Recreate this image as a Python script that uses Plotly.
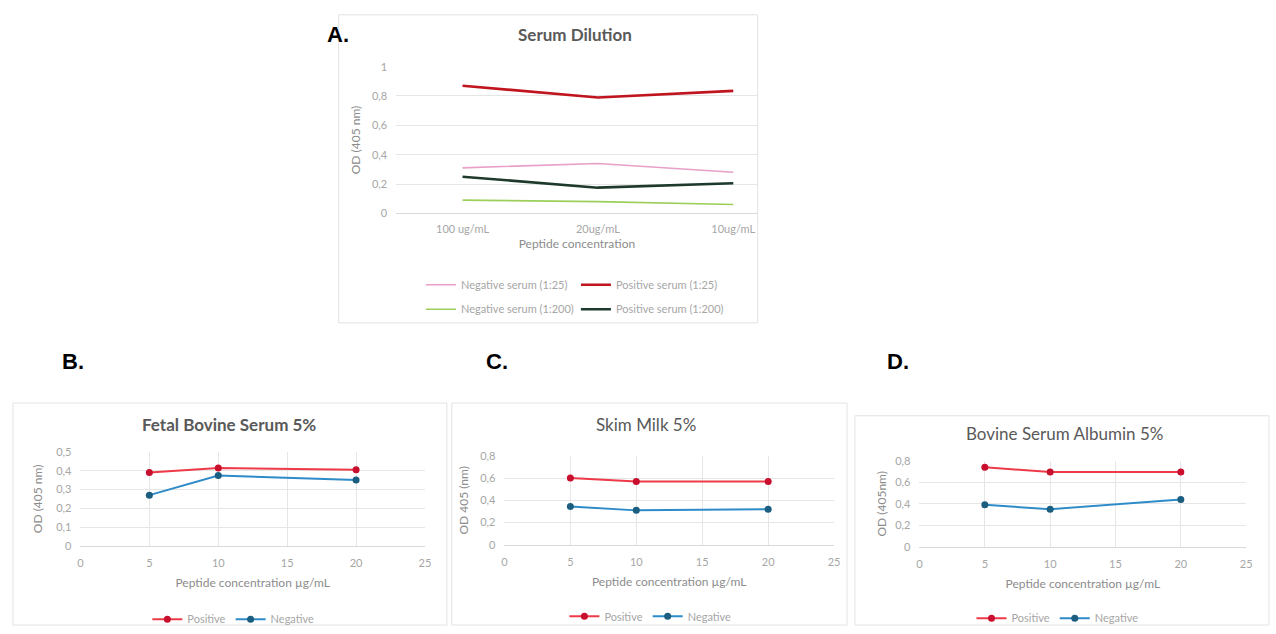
import plotly.graph_objects as go

W, H = 1276, 634

# ---------------- data ----------------
a_categories = ["100 ug/mL", "20ug/mL", "10ug/mL"]
a_neg_1_25 = [0.31, 0.34, 0.28]
a_pos_1_25 = [0.87, 0.79, 0.835]
a_neg_1_200 = [0.09, 0.08, 0.06]
a_pos_1_200 = [0.25, 0.175, 0.205]

conc = [5, 10, 20]
b_pos = [0.39, 0.415, 0.405]
b_neg = [0.27, 0.375, 0.35]
c_pos = [0.60, 0.57, 0.57]
c_neg = [0.345, 0.31, 0.32]
d_pos = [0.74, 0.695, 0.695]
d_neg = [0.39, 0.35, 0.44]

FONT = "Lato"
TICK = "#A6A6A6"
TXT = "#8C8C8C"
GRID = "#E6E6E6"
RED_L, RED_M = "#EE3A48", "#C8102E"
BLU_L, BLU_M = "#2E8BC8", "#1B5E80"


def px(x):
    return x / W


def py(y):
    return 1 - y / H


fig = go.Figure()

# Panel A traces
fig.add_trace(go.Scatter(x=a_categories, y=a_neg_1_25, mode="lines", name="Negative serum (1:25)",
                         line=dict(color="#E8A0C8", width=1.6), xaxis="x", yaxis="y", legend="legend"))
fig.add_trace(go.Scatter(x=a_categories, y=a_pos_1_25, mode="lines", name="Positive serum (1:25)",
                         line=dict(color="#C0141E", width=2.6), xaxis="x", yaxis="y", legend="legend"))
fig.add_trace(go.Scatter(x=a_categories, y=a_neg_1_200, mode="lines", name="Negative serum (1:200)",
                         line=dict(color="#9BCF5A", width=1.6), xaxis="x", yaxis="y", legend="legend5"))
fig.add_trace(go.Scatter(x=a_categories, y=a_pos_1_200, mode="lines", name="Positive serum (1:200)",
                         line=dict(color="#1E3A2C", width=2.6), xaxis="x", yaxis="y", legend="legend5"))

# Panels B, C, D
panels = [
    ("x2", "y2", "legend2", b_pos, b_neg),
    ("x3", "y3", "legend3", c_pos, c_neg),
    ("x4", "y4", "legend4", d_pos, d_neg),
]
for xa, ya, lg, pos, neg in panels:
    fig.add_trace(go.Scatter(x=conc, y=pos, mode="lines+markers", name="Positive",
                             line=dict(color=RED_L, width=2), marker=dict(color=RED_M, size=7),
                             xaxis=xa, yaxis=ya, legend=lg))
    fig.add_trace(go.Scatter(x=conc, y=neg, mode="lines+markers", name="Negative",
                             line=dict(color=BLU_L, width=2), marker=dict(color=BLU_M, size=7),
                             xaxis=xa, yaxis=ya, legend=lg))

tickfont = dict(family=FONT, size=11, color=TICK)
titlefont = dict(family=FONT, size=12, color=TXT)


def xaxis_lin(x0, x1, anchor, title):
    return dict(domain=[px(x0), px(x1)], anchor=anchor, range=[0, 25], dtick=5,
                showgrid=True, gridcolor=GRID, zeroline=False, showline=True, linecolor="#D9D9D9",
                ticks="", tickfont=tickfont, ticklabelstandoff=7,
                title=dict(text=title, font=titlefont, standoff=10))


def yaxis_lin(y0, y1, anchor, rng, dtick, title, standoff):
    return dict(domain=[py(y0), py(y1)], anchor=anchor, range=rng, dtick=dtick,
                showgrid=True, gridcolor=GRID, zeroline=False, showline=False,
                ticks="", tickfont=tickfont, ticklabelstandoff=8,
                title=dict(text=title, font=titlefont, standoff=standoff))


legend_common = dict(orientation="h", bgcolor="rgba(0,0,0,0)",
                     font=dict(family=FONT, size=11, color=TICK),
                     xanchor="center", yanchor="middle", itemwidth=30)

fig.update_layout(
    width=W, height=H, margin=dict(l=0, r=0, t=0, b=0),
    paper_bgcolor="white", plot_bgcolor="white",
    separators=",.",
    showlegend=True,
    xaxis=dict(domain=[px(396), px(760)], anchor="y", type="category", range=[-0.49, 2.18],
               showgrid=False, zeroline=False, showline=True, linecolor="#D9D9D9", ticks="",
               tickfont=tickfont, ticklabelstandoff=5,
               title=dict(text="Peptide concentration", font=titlefont, standoff=6)),
    yaxis=dict(domain=[py(211), py(61)], anchor="x", range=[0, 1], dtick=0.2,
               showgrid=True, gridcolor=GRID, zeroline=False, ticks="", tickfont=tickfont,
               ticklabelstandoff=8,
               title=dict(text="OD (405 nm)", font=titlefont, standoff=8)),
    xaxis2=xaxis_lin(78, 425, "y2", "Peptide concentration µg/mL"),
    yaxis2=yaxis_lin(551, 455, "x2", [0, 0.5], 0.1, "OD (405 nm)", 10),
    xaxis3=xaxis_lin(505, 837, "y3", "Peptide concentration µg/mL"),
    yaxis3=yaxis_lin(550, 459, "x3", [0, 0.8], 0.2, "OD 405 (nm)", 8),
    xaxis4=xaxis_lin(923, 1252, "y4", "Peptide concentration µg/mL"),
    yaxis4=yaxis_lin(552, 464, "x4", [0, 0.8], 0.2, "OD (405nm)", 6),
    legend=dict(**legend_common, x=px(577), y=py(284), entrywidth=110, entrywidthmode="pixels"),
    legend5=dict(**legend_common, x=px(577), y=py(309), entrywidth=110, entrywidthmode="pixels"),
    legend2=dict(**legend_common, x=px(232), y=py(626)),
    legend3=dict(**legend_common, x=px(652), y=py(623)),
    legend4=dict(**legend_common, x=px(1062), y=py(625)),
)

# panel frames
for (x0, y0, x1, y1) in [(338, 8, 760, 323), (10, 405, 447, 632), (452, 405, 850, 632), (858, 418, 1275, 632)]:
    fig.add_shape(type="rect", xref="paper", yref="paper", x0=px(x0), x1=px(x1), y0=py(y0), y1=py(y1),
                  line=dict(color="#E3E3E3", width=1), layer="below")

# chart titles
titles = [
    ("Serum Dilution", 576, 28, True),
    ("Fetal Bovine Serum 5%", 228, 427, True),
    ("Skim Milk 5%", 648, 427, False),
    ("Bovine Serum Albumin 5%", 1069, 436, False),
]
for text, x, y, bold in titles:
    fig.add_annotation(text=f"<b>{text}</b>" if bold else text, xref="paper", yref="paper",
                       x=px(x), y=py(y), showarrow=False, xanchor="center", yanchor="middle",
                       font=dict(family=FONT, size=17, color="#595959"))

# panel letters
for text, x, y in [("A.", 337, 28), ("B.", 70, 362), ("C.", 498, 362), ("D.", 901, 362)]:
    fig.add_annotation(text=f"<b>{text}</b>", xref="paper", yref="paper", x=px(x), y=py(y),
                       showarrow=False, xanchor="center", yanchor="middle",
                       font=dict(family="Liberation Sans", size=22, color="black"))

fig.write_html("out.html", config={"displayModeBar": False},
               post_script="document.body.style.margin='0';document.body.style.overflow='hidden';")
